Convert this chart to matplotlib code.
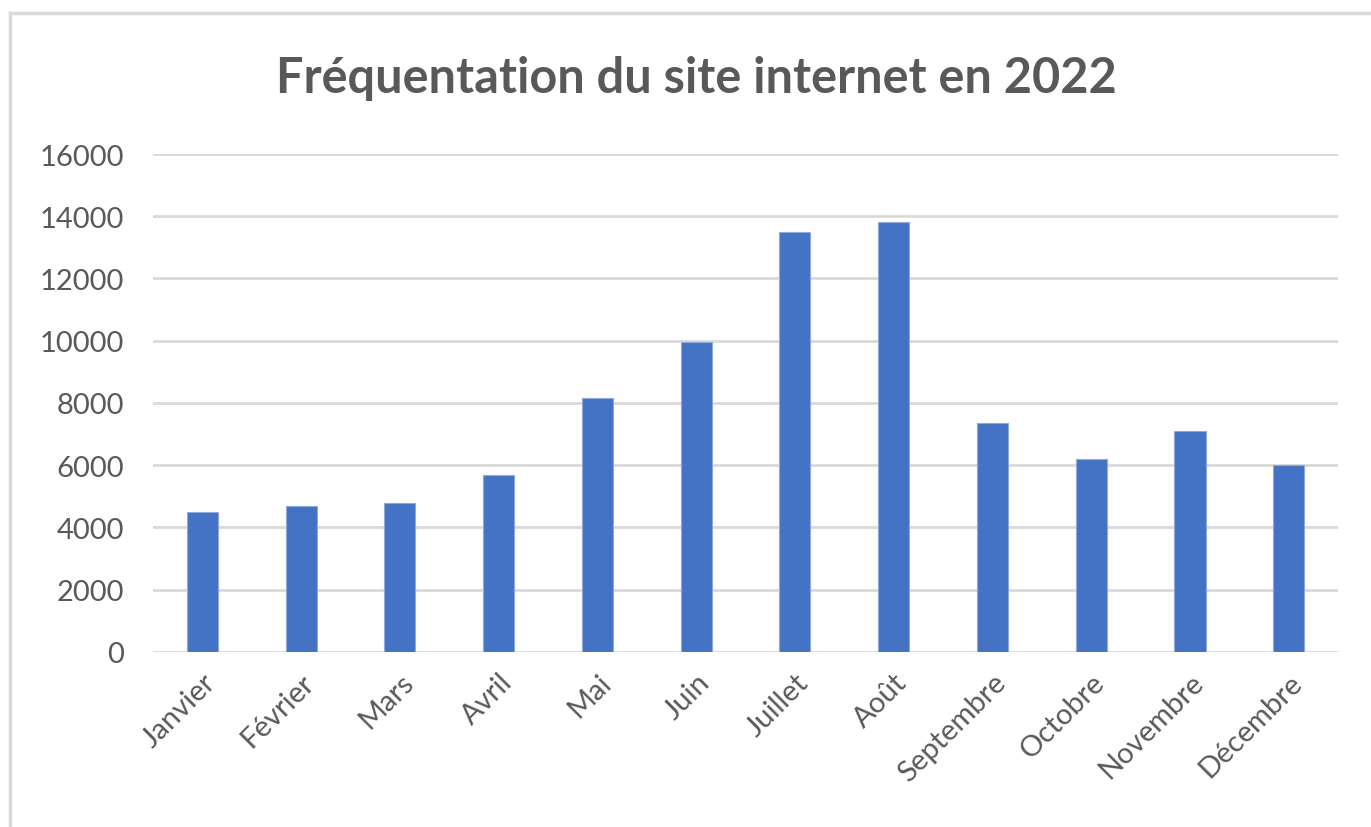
import matplotlib
matplotlib.use("Agg")
import matplotlib.pyplot as plt
from matplotlib.lines import Line2D

# donnees
mois = ["Janvier", "Février", "Mars", "Avril", "Mai", "Juin", "Juillet",
        "Août", "Septembre", "Octobre", "Novembre", "Décembre"]
visites = [4500, 4700, 4800, 5700, 8150, 9950, 13500, 13800, 7350, 6200, 7100, 6000]
graduations = [0, 2000, 4000, 6000, 8000, 10000, 12000, 14000, 16000]

gris_texte = "#595959"
gris_grille = "#d9d9d9"

plt.rcParams["font.family"] = ["Lato", "DejaVu Sans"]

fig = plt.figure(figsize=(13.71, 8.28), dpi=100)
ax = fig.add_axes([0.1116, 0.2114, 0.8644, 0.6014])

x = range(len(mois))
ax.bar(x, visites, width=0.315, color="#4472C4", edgecolor="#8eaadb",
       linewidth=0.8, zorder=3)

ax.set_xlim(-0.5, len(mois) - 0.5)
ax.set_ylim(0, 16000)
ax.set_yticks(graduations)
ax.set_yticklabels([str(g) for g in graduations])
ax.set_xticks(list(x))
ax.set_xticklabels(mois, rotation=45, ha="right", rotation_mode="anchor")

ax.grid(axis="y", color=gris_grille, linewidth=2, zorder=0)
ax.tick_params(axis="both", length=0, labelsize=21, colors=gris_texte)
ax.tick_params(axis="y", pad=21)
ax.tick_params(axis="x", pad=12)
for s in ax.spines.values():
    s.set_visible(False)

fig.text(0.508, 0.905, "Fréquentation du site internet en 2022",
         ha="center", va="center", fontsize=35, fontweight="bold",
         color=gris_texte)

# cadre du graphique (bord gauche et haut visibles)
fig.add_artist(Line2D([0.0075, 0.0075], [0, 0.983], color=gris_grille,
                      linewidth=2.5, transform=fig.transFigure))
fig.add_artist(Line2D([0.0075, 1], [0.983, 0.983], color=gris_grille,
                      linewidth=2.5, transform=fig.transFigure))

fig.savefig("out.png", dpi=100, facecolor="white")
